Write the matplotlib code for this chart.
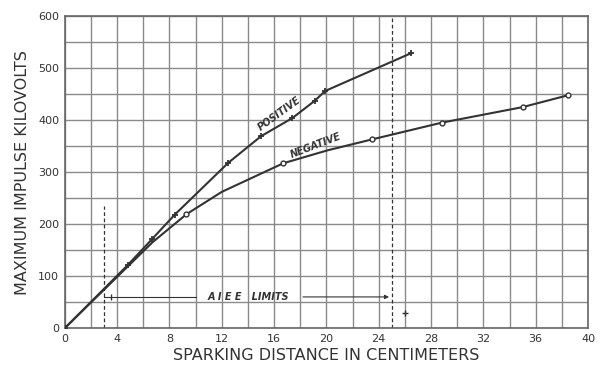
import matplotlib
matplotlib.use('Agg')
import matplotlib.pyplot as plt
import numpy as np

# sparking distance (cm) vs maximum impulse kV
pos_x = [0, 4.8, 6.7, 8.4, 12.5, 15.0, 17.4, 19.1, 19.9, 26.5]
pos_y = [0, 121, 172, 218, 318, 369, 404, 437, 456, 529]
neg_x = [0, 6.7, 9.3, 12.0, 16.7, 20.1, 23.5, 28.8, 35.0, 38.5]
neg_y = [0, 165, 219, 262, 317, 342, 363, 395, 425, 448]
neg_marked = [2, 4, 6, 7, 8, 9]

x_ticks = [0, 4, 8, 12, 16, 20, 24, 28, 32, 36, 40]
y_ticks = [0, 100, 200, 300, 400, 500, 600]

limit_lo = 3
limit_hi = 25
limit_level = 60

ink = '#333333'
grid_col = '#8a8a8a'

fig = plt.figure(figsize=(6, 3.75), dpi=100)
ax = fig.add_axes([0.108, 0.125, 0.872, 0.832])

ax.set_xlim(0, 40)
ax.set_ylim(0, 600)
ax.set_xticks(x_ticks)
ax.set_xticks(np.arange(0, 41, 2), minor=True)
ax.set_yticks(y_ticks)
ax.set_yticks(np.arange(0, 601, 50), minor=True)
ax.grid(which='both', color=grid_col, lw=1.0)
ax.set_axisbelow(True)
ax.tick_params(which='both', length=0, labelsize=8, colors=ink, pad=4)
for s in ax.spines.values():
    s.set_color('#666666')
    s.set_linewidth(1.2)

ax.plot(pos_x, pos_y, color=ink, lw=1.5, marker='+', ms=5, mew=1.3, zorder=3)
ax.plot(neg_x, neg_y, color=ink, lw=1.5, marker='o', ms=3.5, mfc='white',
        mec=ink, mew=1.0, markevery=neg_marked, zorder=3)

# AIEE limit lines
ax.plot([limit_lo, limit_lo], [0, 235], color=ink, lw=0.9, ls=(0, (3, 2)))
ax.plot([limit_hi, limit_hi], [0, 600], color=ink, lw=0.9, ls=(0, (3, 2)))
ax.plot([limit_lo, 10], [limit_level, limit_level], color=ink, lw=0.8)
ax.plot([limit_lo + 0.5], [limit_level], marker='|', color=ink, ms=5, mew=1.0)
ax.annotate('', xy=(limit_hi, limit_level), xytext=(18, limit_level),
            arrowprops=dict(arrowstyle='-|>', color=ink, lw=0.8,
                            mutation_scale=6))
ax.text(14, limit_level, 'A I E E   LIMITS', ha='center', va='center',
        fontsize=7, style='italic', fontweight='bold', color=ink)
ax.plot([26], [30], marker='+', color=ink, ms=4)

ax.text(16.4, 412, 'POSITIVE', rotation=36, ha='center', va='center',
        fontsize=7, style='italic', fontweight='bold', color=ink)
ax.text(19.2, 352, 'NEGATIVE', rotation=21, ha='center', va='center',
        fontsize=7, style='italic', fontweight='bold', color=ink)

ax.set_xlabel('SPARKING DISTANCE IN CENTIMETERS', fontsize=11.5, color=ink,
              labelpad=3)
ax.set_ylabel('MAXIMUM IMPULSE KILOVOLTS', fontsize=11.5, color=ink,
              labelpad=6)

fig.savefig('out.png', dpi=100)
